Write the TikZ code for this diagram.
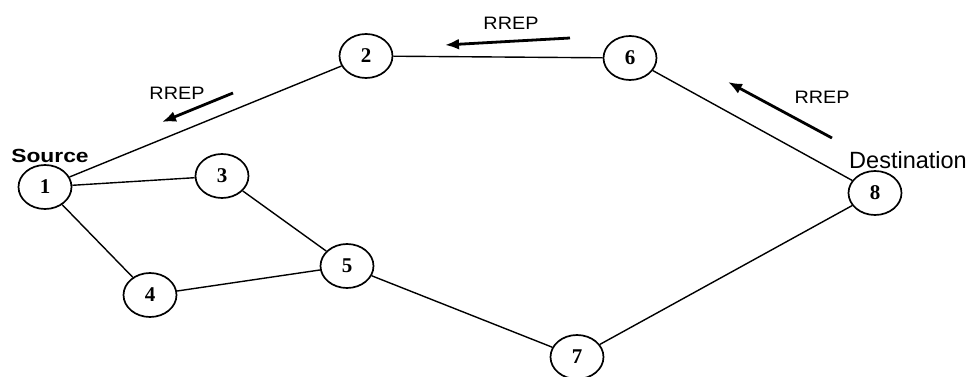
\documentclass[tikz,border=0pt]{standalone}
\usepackage{fontspec}
\setmainfont{Liberation Serif}
\setsansfont{Liberation Sans}
\usetikzlibrary{shapes.geometric,arrows.meta}
\begin{document}
\begin{tikzpicture}[x=1pt,y=-1pt,
  nodebox/.style={ellipse,draw,line width=1.7pt,minimum width=53pt,minimum height=44pt,inner sep=0pt,font=\fontsize{21}{21}\selectfont\bfseries},
  link/.style={line width=1.4pt},
  msgarrow/.style={line width=2.8pt,-{Latex[length=14pt,width=11pt]}},
  msglabel/.style={font=\sffamily\fontsize{18}{18}\selectfont,xscale=1.1},
  rolelabel/.style={font=\sffamily\fontsize{19}{19}\selectfont\bfseries}]
\useasboundingbox (0,0) rectangle (975,377);
\fill[white] (0,0) rectangle (975,377);
\node[nodebox] (n1) at (45,187) {1};
\node[nodebox] (n2) at (366,56) {2};
\node[nodebox] (n3) at (222,176) {3};
\node[nodebox] (n4) at (150,295) {4};
\node[nodebox] (n5) at (347,266) {5};
\node[nodebox] (n6) at (630,58) {6};
\node[nodebox] (n7) at (577,357) {7};
\node[nodebox] (n8) at (875,193) {8};
\draw[link] (n1) -- (n2);
\draw[link] (n1) -- (n3);
\draw[link] (n1) -- (n4);
\draw[link] (n3) -- (n5);
\draw[link] (n4) -- (n5);
\draw[link] (n5) -- (n7);
\draw[link] (n7) -- (n8);
\draw[link] (n8) -- (n6);
\draw[link] (n6) -- (n2);
\node[rolelabel,xscale=1.2] (src) at (50,156) {Source};
\node[font=\sffamily\fontsize{23.5}{23.5}\selectfont] (dst) at (908,160) {Destination};
\coordinate (a1s) at (570,38);
\coordinate (a1e) at (445,45);
\coordinate (a2s) at (233,93);
\coordinate (a2e) at (162,122);
\coordinate (a3s) at (832,138);
\coordinate (a3e) at (728,82);
\draw[msgarrow] (a1s) -- (a1e);
\draw[msgarrow] (a2s) -- (a2e);
\draw[msgarrow] (a3s) -- (a3e);
\node[msglabel] (l1) at (511,23) {RREP};
\node[msglabel] (l2) at (177,93) {RREP};
\node[msglabel] (l3) at (822,97) {RREP};
\end{tikzpicture}
\end{document}
